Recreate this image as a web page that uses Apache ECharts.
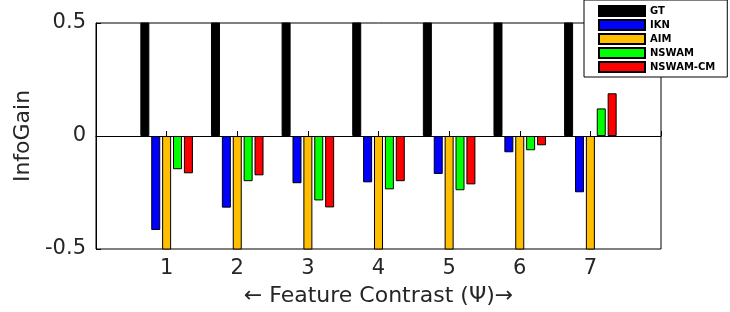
<!DOCTYPE html>
<html>
<head>
<meta charset="utf-8">
<script src="https://cdn.jsdelivr.net/npm/echarts@6/dist/echarts.min.js"></script>
<style>
html,body{margin:0;padding:0;background:#fff;}
#chart{width:730px;height:312px;}
</style>
</head>
<body>
<div id="chart"></div>
<script>
// Data
const categories = ['1', '2', '3', '4', '5', '6', '7'];
const seriesNames = ['GT', 'IKN', 'AIM', 'NSWAM', 'NSWAM-CM'];
const GT = [1.0, 1.0, 1.0, 1.0, 1.0, 1.0, 1.0];
const IKN = [-0.416, -0.317, -0.209, -0.205, -0.168, -0.072, -0.249];
const AIM = [-0.9, -0.9, -0.9, -0.9, -0.9, -0.9, -0.9];
const NSWAM = [-0.147, -0.200, -0.285, -0.236, -0.240, -0.063, 0.122];
const NSWAM_CM = [-0.165, -0.174, -0.316, -0.200, -0.214, -0.041, 0.189];
const yTicks = [-0.5, 0, 0.5];

const colors = ['#000000', '#0000ff', '#ffbf00', '#00ff00', '#ff0000'];
const values = [GT, IKN, AIM, NSWAM, NSWAM_CM];

// pad axis with empty slots at 0 and 8 (x-limits 0..8)
const axisCats = [''].concat(categories, ['']);
const pad = arr => [null].concat(arr, [null]);

const FONT = 'DejaVu Sans';
const series = seriesNames.map((name, i) => {
  const s = {
    name: name,
    type: 'bar',
    data: pad(values[i]),
    barWidth: 9,
    barGap: '21%',
    clip: true,
    itemStyle: { color: colors[i], borderColor: '#000', borderWidth: 1 },
    emphasis: { disabled: true },
    animation: false
  };
  if (i === 0) {
    s.markLine = {
      silent: true,
      symbol: ['none', 'none'],
      label: { show: false },
      lineStyle: { color: '#000', width: 1, type: 'solid' },
      data: [{ yAxis: 0 }],
      animation: false
    };
  }
  return s;
});

const chart = echarts.init(document.getElementById('chart'), null, { renderer: 'canvas' });
chart.setOption({
  animation: false,
  backgroundColor: '#fff',
  grid: {
    left: 96, right: 69, top: 23, bottom: 63,
    show: true, borderColor: '#000', borderWidth: 1, backgroundColor: '#fff'
  },
  legend: {
    data: seriesNames,
    orient: 'vertical',
    left: 584, top: 0,
    padding: [5, 12, 4, 14],
    itemWidth: 46, itemHeight: 10, itemGap: 2,
    icon: 'rect',
    backgroundColor: '#fff',
    borderColor: '#000', borderWidth: 1,
    textStyle: { fontFamily: FONT, fontWeight: 'bold', fontSize: 10, color: '#000', lineHeight: 11 }
  },
  xAxis: {
    type: 'category',
    data: axisCats,
    boundaryGap: false,
    name: '\u2190 Feature Contrast (\u03A8)\u2192',
    nameLocation: 'middle',
    nameGap: 36,
    nameTextStyle: { fontFamily: FONT, fontSize: 22, color: '#262626' },
    axisLine: { lineStyle: { color: '#000', width: 1 } },
    axisTick: { inside: true, length: 5, lineStyle: { color: '#000' } },
    axisLabel: { fontFamily: FONT, fontSize: 21, color: '#262626', margin: 9, interval: 0 },
    splitLine: { show: false }
  },
  yAxis: {
    type: 'value',
    min: -0.5, max: 0.5, interval: 0.5,
    name: 'InfoGain',
    nameLocation: 'middle',
    nameGap: 58,
    nameTextStyle: { fontFamily: FONT, fontSize: 22, color: '#262626' },
    axisLine: { show: true, lineStyle: { color: '#000', width: 1 } },
    axisTick: { show: true, inside: true, length: 5, lineStyle: { color: '#000' } },
    axisLabel: {
      fontFamily: FONT, fontSize: 21, color: '#262626', margin: 10,
      formatter: v => (yTicks.indexOf(v) >= 0 ? String(v) : '')
    },
    splitLine: { show: false }
  },
  series: series
});
</script>
</body>
</html>
